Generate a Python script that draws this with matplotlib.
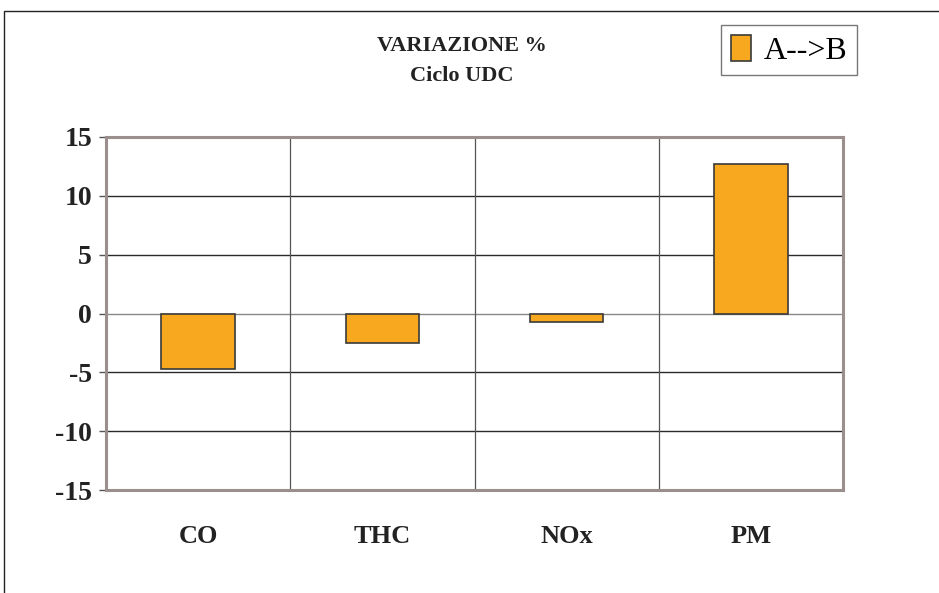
import matplotlib.pyplot as plt
from matplotlib.patches import Rectangle, Patch
import numpy as np

plt.rcParams['font.family'] = ['Liberation Serif', 'DejaVu Serif']

# emission change, A --> B (%)
categories = ['CO', 'THC', 'NOx', 'PM']
variation = [-4.7, -2.5, -0.75, 12.7]
yticks = [-15, -10, -5, 0, 5, 10, 15]

bar_color = '#F8A81E'
edge_color = '#3a3a3a'
frame_color = '#9a8f8c'

fig = plt.figure(figsize=(9.39, 5.93), dpi=100)

# outer chart border (open on right and bottom)
fig.patches.append(Rectangle((4 / 939, -0.1), 1.2, 1 - 11 / 593 + 0.1,
                             transform=fig.transFigure, fill=False,
                             edgecolor='#222222', linewidth=1.0))

ax = fig.add_axes([106 / 939, 1 - 490 / 593, 737 / 939, 353 / 593])

x = np.arange(len(categories))
ax.bar(x, variation, width=0.4, color=bar_color, edgecolor=edge_color,
       linewidth=1.2, zorder=3)

ax.set_xlim(-0.5, len(categories) - 0.5)
ax.set_ylim(-15, 15)

# horizontal grid lines
for y in yticks:
    if y in (-15, 15):
        continue
    col = '#888888' if y == 0 else '#2a2a2a'
    ax.axhline(y, color=col, linewidth=1.0, zorder=1)
# vertical separators between categories
for xv in x[:-1] + 0.5:
    ax.axvline(xv, color='#555555', linewidth=0.9, zorder=1)

for side in ['left', 'right', 'top', 'bottom']:
    ax.spines[side].set_color(frame_color)
    ax.spines[side].set_linewidth(2.2)

ax.set_yticks(yticks)
ax.set_yticklabels([str(t) for t in yticks], fontsize=20, fontweight='bold',
                   color='#222222')
ax.tick_params(axis='y', direction='out', length=5, width=1, color='#555555',
               pad=5)
ax.set_xticks(x)
ax.set_xticklabels(categories, fontsize=19, fontweight='bold', color='#222222')
ax.tick_params(axis='x', length=0, pad=25)

fig.text(462 / 939, 1 - 46 / 593, 'VARIAZIONE %', ha='center', va='center',
         fontsize=16, fontweight='bold', color='#222222')
fig.text(462 / 939, 1 - 76 / 593, 'Ciclo UDC', ha='center', va='center',
         fontsize=16, fontweight='bold', color='#222222')

handle = Patch(facecolor=bar_color, edgecolor=edge_color, linewidth=1.2)
leg = fig.legend([handle], ['A-->B'], loc='upper left',
                 bbox_to_anchor=(721 / 939, 1 - 25 / 593),
                 fontsize=23, frameon=True, fancybox=False,
                 handlelength=0.65, handleheight=0.9, handletextpad=0.4,
                 borderpad=0.3, borderaxespad=0)
leg.get_frame().set_edgecolor('#555555')
leg.get_frame().set_linewidth(1.0)

fig.savefig('out.png', dpi=100, facecolor='white')
